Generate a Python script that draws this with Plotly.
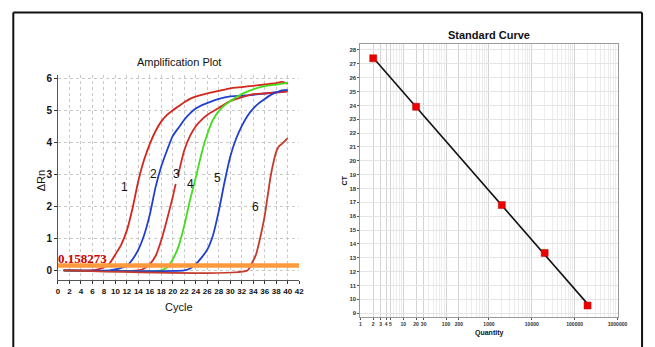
import numpy as np
import plotly.graph_objects as go

# ---------------- Amplification plot data ----------------
c1_x = [1, 6, 7, 8, 9, 10, 11, 12, 13, 14, 15, 16, 17, 18, 19, 20, 21, 22, 23, 24, 26, 28, 30, 32, 34, 36, 38, 39, 40]
c1_y = [0, 0, 0.03, 0.1, 0.22, 0.5, 0.8, 1.25, 1.95, 2.8, 3.45, 3.95, 4.35, 4.65, 4.85, 5.0, 5.12, 5.25, 5.35, 5.42, 5.52, 5.6, 5.68, 5.72, 5.76, 5.8, 5.84, 5.88, 5.82]

c2_x = [1, 9, 10, 11, 12, 13, 14, 15, 16, 17, 18, 19, 20, 21, 22, 23, 24, 25, 26, 28, 30, 32, 34, 36, 38, 40]
c2_y = [0, 0, 0.03, 0.08, 0.15, 0.35, 0.65, 1.1, 1.75, 2.6, 3.25, 3.75, 4.2, 4.45, 4.7, 4.9, 5.05, 5.15, 5.22, 5.35, 5.43, 5.45, 5.48, 5.52, 5.56, 5.6]

c3_x = [1, 14, 15, 16, 17, 18, 19, 20, 20.5, 20.7, 20.9, 22, 23, 24, 25, 26, 28, 30, 32, 34, 36, 38, 40]
c3_y = [0, 0, 0.06, 0.2, 0.45, 0.95, 1.6, 2.3, 2.7, None, 2.95, 3.75, 4.2, 4.5, 4.7, 4.85, 5.07, 5.28, 5.4, 5.5, 5.52, 5.55, 5.58]

c4_x = [1, 18, 19, 20, 21, 22, 23, 24, 25, 26, 27, 28, 29, 30, 32, 34, 36, 38, 40]
c4_y = [0, 0, 0.1, 0.35, 0.75, 1.4, 2.2, 2.9, 3.65, 4.25, 4.7, 4.97, 5.15, 5.28, 5.5, 5.65, 5.75, 5.8, 5.85]

c5_x = [1, 22, 23, 24, 25, 26, 27, 28, 29, 30, 31, 32, 33, 34, 35, 36, 37, 38, 39, 40]
c5_y = [0, 0, 0.06, 0.2, 0.4, 0.65, 1.1, 1.85, 2.75, 3.55, 4.1, 4.5, 4.82, 5.05, 5.22, 5.35, 5.47, 5.55, 5.62, 5.63]

c6_x = [1, 33, 33.7, 34.5, 35, 35.5, 36, 36.5, 37, 37.5, 38, 38.5, 39, 40]
c6_y = [0, 0, 0.2, 0.5, 0.85, 1.25, 1.7, 2.3, 2.9, 3.35, 3.7, 3.88, 3.95, 4.13]

curve_names = ["1", "2", "3", "4", "5", "6"]
curve_colors = ["#d3261c", "#1f3fcf", "#d32a26", "#45dc1e", "#1f3fcf", "#c43a2c"]
label_x = [11.6, 16.6, 20.7, 23.0, 27.8, 34.4]
label_y = [2.59, 3.0, 3.0, 2.69, 2.88, 1.97]

threshold = 0.158273
cycle_ticks = list(range(0, 43, 2))
rn_ticks = [0, 1, 2, 3, 4, 5, 6]

# ---------------- Standard curve data ----------------
quantity = [2, 20, 2000, 20000, 200000]
ct = [27.4, 23.9, 16.8, 13.35, 9.55]
q_ticks = [1, 2, 3, 4, 5, 10, 20, 30, 100, 200, 1000, 10000, 100000, 1000000]
ct_ticks = list(range(9, 29))

fig = go.Figure()

curves = [(c1_x, c1_y), (c2_x, c2_y), (c3_x, c3_y), (c4_x, c4_y), (c5_x, c5_y), (c6_x, c6_y)]
for (cx, cy), name, col in zip(curves, curve_names, curve_colors):
    fig.add_trace(go.Scatter(x=cx, y=cy, mode="lines", name=name,
                             line=dict(color=col, width=1.8, shape="spline", smoothing=0.6),
                             connectgaps=False, xaxis="x", yaxis="y", showlegend=False))

fig.add_trace(go.Scatter(x=[cycle_ticks[0], cycle_ticks[-1]], y=[threshold, threshold], mode="lines",
                         line=dict(color="#ff9a3c", width=4.5), xaxis="x", yaxis="y", showlegend=False))

# regression line
slope, intercept = np.polyfit(np.log10(quantity), ct, 1)
fit_x = [quantity[0], quantity[-1]]
fit_y = [slope * np.log10(v) + intercept for v in fit_x]
fig.add_trace(go.Scatter(x=fit_x, y=fit_y, mode="lines", line=dict(color="#111111", width=1.6),
                         xaxis="x2", yaxis="y2", showlegend=False))
fig.add_trace(go.Scatter(x=quantity, y=ct, mode="markers",
                         marker=dict(symbol="square", size=7, color="#ee0000", line=dict(color="#b00000", width=0.5)),
                         xaxis="x2", yaxis="y2", showlegend=False))

annotations = []
for name, lx, ly in zip(curve_names, label_x, label_y):
    annotations.append(dict(x=lx, y=ly, xref="x", yref="y", text=name, showarrow=False,
                            xanchor="center", yanchor="middle",
                            font=dict(family="Liberation Sans", size=12, color="#111111")))
annotations.append(dict(x=cycle_ticks[0], y=threshold, xref="x", yref="y", text="<b>%g</b>" % threshold,
                        showarrow=False, xanchor="left", yanchor="bottom", yshift=-3, xshift=-2,
                        font=dict(family="Liberation Serif", size=13, color="#cc0000")))


def pa(x, y, text, size, bold=False, angle=0, family="Liberation Sans"):
    return dict(x=x / 655, y=1 - y / 347, xref="paper", yref="paper",
                text=("<b>%s</b>" % text) if bold else text, showarrow=False,
                xanchor="center", yanchor="middle", textangle=angle,
                font=dict(family=family, size=size, color="#111111"))


annotations += [
    pa(180, 60, "Amplification Plot", 11),
    pa(180, 307, "Cycle", 11),
    pa(40, 180, "ΔRn", 11, angle=-90),
    pa(496, 33, "Standard Curve", 11, bold=True),
    pa(496, 333, "Quantity", 7, bold=True),
    pa(349, 180, "CT", 7, bold=True, angle=-90),
]

frame = dict(color="#111111", width=2)
shapes = [
    dict(type="line", xref="paper", yref="paper", x0=11.5 / 655, x1=11.5 / 655, y0=0, y1=1 - 10.5 / 347, line=frame),
    dict(type="line", xref="paper", yref="paper", x0=11.5 / 655, x1=652 / 655, y0=1 - 10.5 / 347, y1=1 - 10.5 / 347, line=frame),
    dict(type="line", xref="paper", yref="paper", x0=652 / 655, x1=652 / 655, y0=0, y1=1 - 10.5 / 347, line=frame),
]

fig.update_layout(
    width=655, height=347, margin=dict(l=0, r=0, t=0, b=0),
    paper_bgcolor="white", plot_bgcolor="white",
    annotations=annotations, shapes=shapes,
    xaxis=dict(domain=[57 / 655, 302.7 / 655], range=[0, 42], tickvals=cycle_ticks,
               ticktext=["<b>%d</b>" % v for v in cycle_ticks], tickangle=0,
               tickfont=dict(family="Liberation Sans Narrow, Liberation Sans", size=8, color="#111111"),
               showgrid=True, gridcolor="#c8c8c8", griddash="dot", gridwidth=1,
               ticks="outside", ticklen=3, tickcolor="#333333",
               showline=True, linecolor="#555555", mirror=False, zeroline=False, anchor="y"),
    yaxis=dict(domain=[1 - 280 / 347, 1 - 73 / 347], range=[-0.31, 6.11], tickvals=rn_ticks,
               ticktext=["<b>%d</b>" % v for v in rn_ticks],
               tickfont=dict(family="Liberation Sans Narrow, Liberation Sans", size=10, color="#111111"),
               showgrid=True, gridcolor="#c8c8c8", griddash="dot", gridwidth=1,
               ticks="outside", ticklen=3, tickcolor="#333333",
               showline=True, linecolor="#555555", mirror=False, zeroline=False, anchor="x"),
    xaxis2=dict(domain=[365 / 655, 627 / 655], type="log", range=[0, 6], tickvals=q_ticks,
                ticktext=["<b>%d</b>" % v for v in q_ticks], tickangle=0,
                tickfont=dict(family="Liberation Sans", size=5, color="#333333"),
                showgrid=True, gridcolor="#d4d4d4", gridwidth=1,
                minor=dict(dtick="D1", showgrid=True, gridcolor="#ececec", ticks=""),
                ticks="outside", ticklen=2, tickcolor="#555555",
                showline=True, linecolor="#9a9a9a", mirror=True, zeroline=False, anchor="y2"),
    yaxis2=dict(domain=[1 - 316.7 / 347, 1 - 42.7 / 347], range=[8.73, 28.4], tickvals=ct_ticks,
                ticktext=["<b>%d</b>" % v for v in ct_ticks],
                tickfont=dict(family="Liberation Sans", size=6, color="#333333"),
                showgrid=True, gridcolor="#e4e4e4", gridwidth=1,
                ticks="outside", ticklen=2, tickcolor="#555555",
                showline=True, linecolor="#9a9a9a", mirror=True, zeroline=False, anchor="x2"),
)

fig.write_html("out.html", config={"displayModeBar": False},
               post_script="document.body.style.margin='0';")
